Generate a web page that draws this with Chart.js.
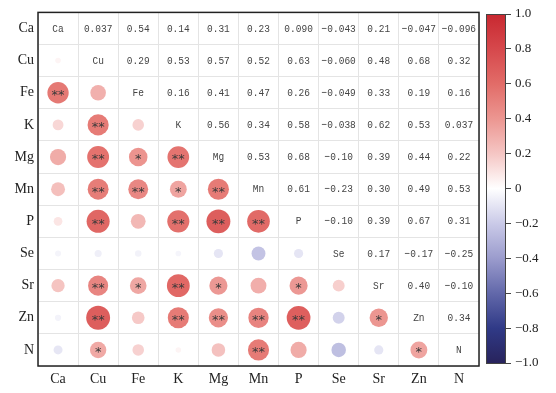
<!DOCTYPE html>
<html>
<head>
<meta charset="utf-8">
<script src="https://cdn.jsdelivr.net/npm/chart.js@4.4.1/dist/chart.umd.min.js"></script>
<style>
  html, body { margin: 0; padding: 0; background: #fff; }
  #wrap { position: relative; width: 556px; height: 393px; }
  #main { position: absolute; left: 0; top: 0; }
  #cbar { position: absolute; left: 486px; top: 0; }
</style>
</head>
<body>
<div id="wrap">
  <canvas id="main" width="556" height="393"></canvas>
  <canvas id="cbar" width="70" height="393"></canvas>
</div>
<script>
const labels = ['Ca', 'Cu', 'Fe', 'K', 'Mg', 'Mn', 'P', 'Se', 'Sr', 'Zn', 'N'];

// correlation matrix (symmetric)
const corr = [
    [1, 0.037, 0.54, 0.14, 0.31, 0.23, 0.090, -0.043, 0.21, -0.047, -0.096],
    [0.037, 1, 0.29, 0.53, 0.57, 0.52, 0.63, -0.060, 0.48, 0.68, 0.32],
    [0.54, 0.29, 1, 0.16, 0.41, 0.47, 0.26, -0.049, 0.33, 0.19, 0.16],
    [0.14, 0.53, 0.16, 1, 0.56, 0.34, 0.58, -0.038, 0.62, 0.53, 0.037],
    [0.31, 0.57, 0.41, 0.56, 1, 0.53, 0.68, -0.10, 0.39, 0.44, 0.22],
    [0.23, 0.52, 0.47, 0.34, 0.53, 1, 0.61, -0.23, 0.30, 0.49, 0.53],
    [0.090, 0.63, 0.26, 0.58, 0.68, 0.61, 1, -0.10, 0.39, 0.67, 0.31],
    [-0.043, -0.060, -0.049, -0.038, -0.10, -0.23, -0.10, 1, 0.17, -0.17, -0.25],
    [0.21, 0.48, 0.33, 0.62, 0.39, 0.30, 0.39, 0.17, 1, 0.40, -0.10],
    [-0.047, 0.68, 0.19, 0.53, 0.44, 0.49, 0.67, -0.17, 0.40, 1, 0.34],
    [-0.096, 0.32, 0.16, 0.037, 0.22, 0.53, 0.31, -0.25, -0.10, 0.34, 1]
];

// significance marks, lower triangle (row i, columns 0..i-1)
const sig = [
    [],
    [''],
    ['**', ''],
    ['', '**', ''],
    ['', '**', '*', '**'],
    ['', '**', '**', '*', '**'],
    ['', '**', '', '**', '**', '**'],
    ['', '', '', '', '', '', ''],
    ['', '**', '*', '**', '*', '', '*', ''],
    ['', '**', '', '**', '**', '**', '**', '', '*'],
    ['', '*', '', '', '', '**', '', '', '', '*']
];

const cbTicks = [-1, -0.8, -0.6, -0.4, -0.2, 0, 0.2, 0.4, 0.6, 0.8, 1];

// colormap stops (value, rgb)
const cmap = [
    [-1.0, [40, 35, 92]],
    [-0.8, [48, 58, 135]],
    [-0.6, [98, 104, 170]],
    [-0.4, [155, 156, 205]],
    [-0.2, [202, 202, 232]],
    [0.0, [255, 255, 255]],
    [0.2, [245, 198, 196]],
    [0.4, [236, 150, 145]],
    [0.6, [226, 108, 104]],
    [0.8, [214, 72, 76]],
    [1.0, [200, 40, 48]]
];

function colorFor(v) {
    for (let k = 1; k < cmap.length; k++) {
        if (v <= cmap[k][0]) {
            const [v0, c0] = cmap[k - 1], [v1, c1] = cmap[k];
            const t = (v - v0) / (v1 - v0);
            const c = c0.map((a, n) => Math.round(a + (c1[n] - a) * t));
            return `rgb(${c[0]},${c[1]},${c[2]})`;
        }
    }
    return 'rgb(200,40,48)';
}

const fmt = v => v.toPrecision(2).replace('-', '\u2212');

const points = [];
for (let i = 0; i < labels.length; i++) {
    for (let j = 0; j < i; j++) {
        points.push({ x: labels[j], y: labels[i], v: corr[i][j], s: sig[i][j] });
    }
}

const cellFont = '9.5px "Liberation Mono", "DejaVu Sans Mono", monospace';
const axisFont = { family: '"Liberation Serif", "DejaVu Serif", serif', size: 14 };

// slightly tall text, like the original CJK font
function tallText(ctx, s, x, y) {
    ctx.save();
    ctx.translate(x, y);
    ctx.scale(1, 1.22);
    ctx.fillText(s, 0, 0);
    ctx.restore();
}

const cellText = {
    id: 'cellText',
    afterDatasetsDraw(chart) {
        const { ctx, scales: { x, y } } = chart;
        ctx.save();
        ctx.textAlign = 'center';
        ctx.textBaseline = 'middle';
        ctx.fillStyle = '#444';
        for (let i = 0; i < labels.length; i++) {
            for (let j = 0; j < labels.length; j++) {
                const px = x.getPixelForValue(j), py = y.getPixelForValue(i);
                if (j > i) {
                    ctx.font = cellFont;
                    tallText(ctx, fmt(corr[i][j]), px, py);
                } else if (j === i) {
                    ctx.font = cellFont;
                    tallText(ctx, labels[i], px, py);
                } else if (sig[i][j]) {
                    ctx.font = '13px "DejaVu Sans", sans-serif';
                    ctx.fillStyle = '#3a3a3a';
                    ctx.fillText(sig[i][j], px, py + 3);
                    ctx.fillStyle = '#444';
                }
            }
        }
        // frame
        const a = chart.chartArea;
        ctx.strokeStyle = '#222';
        ctx.lineWidth = 1.5;
        ctx.strokeRect(a.left, a.top, a.right - a.left, a.bottom - a.top);
        ctx.restore();
    }
};

new Chart(document.getElementById('main'), {
    type: 'scatter',
    data: {
        datasets: [{
            data: points,
            pointRadius: c => 14.5 * Math.sqrt(Math.abs(c.raw.v)),
            pointBackgroundColor: c => colorFor(c.raw.v),
            pointBorderWidth: 0,
            pointBorderColor: 'rgba(0,0,0,0)'
        }]
    },
    options: {
        responsive: false,
        animation: false,
        events: [],
        layout: { padding: { top: 11, right: 77, left: 0, bottom: 0 } },
        plugins: { legend: { display: false }, tooltip: { enabled: false } },
        scales: {
            x: {
                type: 'category',
                labels: labels,
                offset: true,
                grid: { offset: true, color: '#e4e4e4', drawTicks: false },
                border: { display: false },
                ticks: { font: axisFont, color: '#222', padding: 5, maxRotation: 0, autoSkip: false },
                afterFit: s => { s.height = 27; }
            },
            y: {
                type: 'category',
                labels: labels,
                offset: true,
                grid: { offset: true, color: '#e4e4e4', drawTicks: false },
                border: { display: false },
                ticks: { font: axisFont, color: '#222', padding: 4, autoSkip: false },
                afterFit: s => { s.width = 38; }
            }
        }
    },
    plugins: [cellText]
});

// colorbar
const cbFrame = {
    id: 'cbFrame',
    afterDraw(chart) {
        const { ctx, chartArea: a } = chart;
        ctx.save();
        ctx.strokeStyle = '#444';
        ctx.lineWidth = 1;
        ctx.strokeRect(a.left + 0.5, a.top + 0.5, a.right - a.left - 1, a.bottom - a.top);
        ctx.restore();
    }
};

new Chart(document.getElementById('cbar'), {
    type: 'bar',
    data: {
        labels: [''],
        datasets: [{
            data: [[-1, 1]],
            barPercentage: 1,
            categoryPercentage: 1,
            backgroundColor: c => {
                const a = c.chart.chartArea;
                if (!a) return null;
                const g = c.chart.ctx.createLinearGradient(0, a.bottom, 0, a.top);
                cmap.forEach(([v, rgb]) => g.addColorStop((v + 1) / 2, `rgb(${rgb[0]},${rgb[1]},${rgb[2]})`));
                return g;
            }
        }]
    },
    options: {
        responsive: false,
        animation: false,
        events: [],
        layout: { padding: { top: 14, bottom: 30, left: 0, right: 0 } },
        plugins: { legend: { display: false }, tooltip: { enabled: false } },
        scales: {
            x: { display: false },
            y: {
                position: 'right',
                min: -1,
                max: 1,
                afterBuildTicks: s => { s.ticks = cbTicks.map(v => ({ value: v })); },
                ticks: {
                    font: { family: '"Liberation Serif", "DejaVu Serif", serif', size: 13 },
                    color: '#222',
                    padding: 4,
                    callback: v => Math.abs(v) < 1e-9 ? '0' : v.toFixed(1).replace('-', '\u2212')
                },
                grid: { drawOnChartArea: false, drawTicks: true, tickLength: 5, color: '#444' },
                border: { display: false },
                afterFit: s => { s.width = 50; }
            }
        }
    },
    plugins: [cbFrame]
});
</script>
</body>
</html>
